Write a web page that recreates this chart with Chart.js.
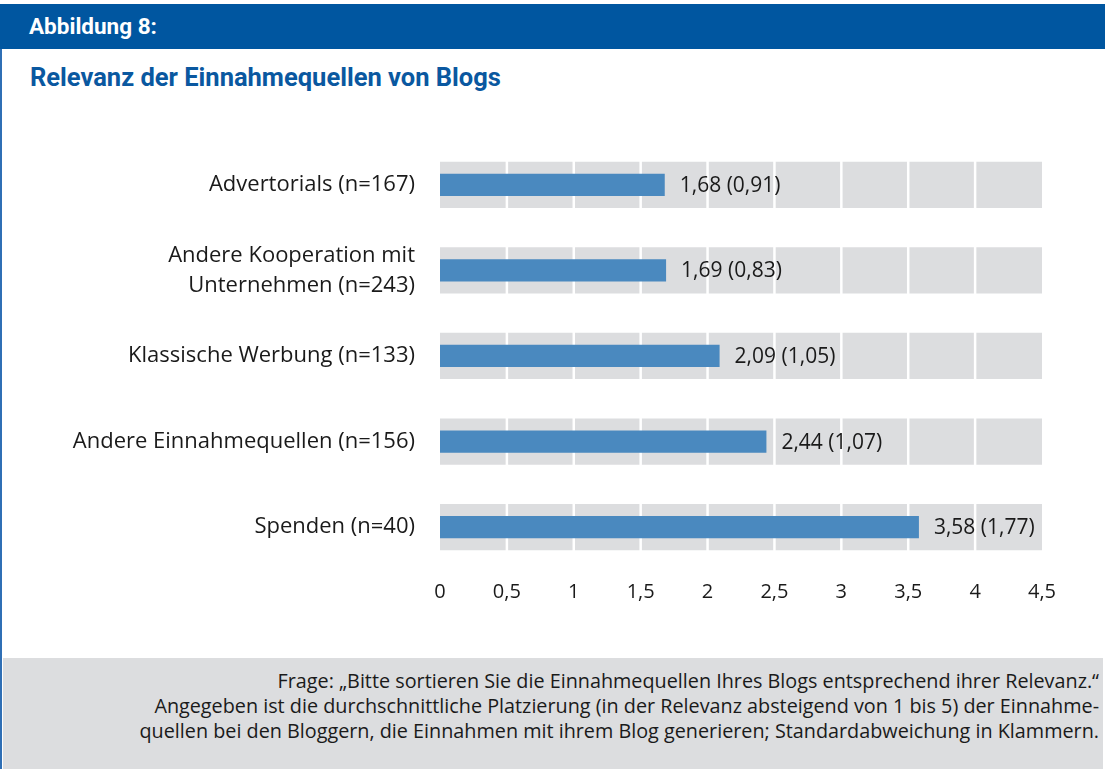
<!DOCTYPE html>
<html>
<head>
<meta charset="utf-8">
<script src="https://cdn.jsdelivr.net/npm/chart.js@4.4.1/dist/chart.umd.min.js"></script>
<style>
  body { margin: 0; width: 1105px; height: 769px; position: relative; overflow: hidden; background: #fff; font-family: Roboto, "Open Sans", sans-serif; }
  #head { position: absolute; left: 0; top: 4px; width: 1105px; height: 45px; background: #0056a0; color: #fff; font-weight: bold; font-size: 22.5px; line-height: 45px; padding-left: 29px; box-sizing: border-box; }
  #edge { position: absolute; left: 0; top: 49px; width: 2px; height: 720px; background: #2f6fb5; }
  #title { position: absolute; left: 30px; top: 62px; color: #0a58a0; font-weight: bold; font-size: 25.5px; }
  #chartBox { position: absolute; left: 0; top: 110px; width: 1105px; height: 500px; }
  #foot { position: absolute; left: 3px; top: 658px; width: 1100px; height: 111px; background: #dcdddf; color: #1a1a1a; font-family: "Open Sans", sans-serif; font-size: 19.8px; line-height: 25px; text-align: right; padding: 10px 4px 0 0; box-sizing: border-box; }
</style>
</head>
<body>
<div id="head">Abbildung 8:</div>
<div id="edge"></div>
<div id="title">Relevanz der Einnahmequellen von Blogs</div>
<div id="chartBox"><canvas id="barChart"></canvas></div>
<div id="foot">
  Frage: „Bitte sortieren Sie die Einnahmequellen Ihres Blogs entsprechend ihrer Relevanz.“<br>
  Angegeben ist die durchschnittliche Platzierung (in der Relevanz absteigend von 1 bis 5) der Einnahme-<br>
  quellen bei den Bloggern, die Einnahmen mit ihrem Blog generieren; Standardabweichung in Klammern.
</div>
<script>
const categories = [
  "Advertorials (n=167)",
  ["Andere Kooperation mit", "Unternehmen (n=243)"],
  "Klassische Werbung (n=133)",
  "Andere Einnahmequellen (n=156)",
  "Spenden (n=40)"
];
const meanRank = [1.68, 1.69, 2.09, 2.44, 3.58];
const stdDev = [0.91, 0.83, 1.05, 1.07, 1.77];
const axisMax = 4.5;
const bandValues = categories.map(() => axisMax);

function de(v) {
  return v.toString().replace(".", ",");
}

function fmt2(v) {
  return v.toFixed(2).replace(".", ",");
}

// white vertical lines painted over the grey bands, under the blue bars
const bandGrid = {
  id: "bandGrid",
  afterDatasetDraw(chart, args) {
    if (args.index !== 1) return;
    const ctx = chart.ctx;
    const x = chart.scales.x;
    const area = chart.chartArea;
    ctx.save();
    ctx.strokeStyle = "#ffffff";
    ctx.lineWidth = 2.5;
    x.ticks.forEach(t => {
      if (t.value <= 0 || t.value >= axisMax) return;
      const px = x.getPixelForValue(t.value);
      ctx.beginPath();
      ctx.moveTo(px, area.top);
      ctx.lineTo(px, area.bottom);
      ctx.stroke();
    });
    ctx.restore();
  }
};

const valueLabels = {
  id: "valueLabels",
  afterDatasetsDraw(chart) {
    const ctx = chart.ctx;
    const meta = chart.getDatasetMeta(0);
    ctx.save();
    ctx.fillStyle = "#1a1a1a";
    ctx.font = "21px 'Open Sans'";
    ctx.textBaseline = "middle";
    meta.data.forEach((bar, i) => {
      ctx.fillText(fmt2(meanRank[i]) + " (" + fmt2(stdDev[i]) + ")", bar.x + 15, bar.y + 1);
    });
    ctx.restore();
  }
};

new Chart(document.getElementById("barChart").getContext("2d"), {
  type: "bar",
  data: {
    labels: categories,
    datasets: [{
      data: meanRank,
      backgroundColor: "#4a89bf",
      barPercentage: 0.26,
      categoryPercentage: 1,
      grouped: false
    }, {
      data: bandValues,
      backgroundColor: "#dcdddf",
      barPercentage: 0.54,
      categoryPercentage: 1,
      grouped: false
    }]
  },
  options: {
    indexAxis: "y",
    responsive: true,
    maintainAspectRatio: false,
    animation: false,
    layout: { padding: { top: 21, right: 63, left: 0, bottom: 0 } },
    plugins: {
      legend: { display: false },
      tooltip: { enabled: false }
    },
    scales: {
      x: {
        min: 0,
        max: axisMax,
        grid: { display: false },
        border: { display: false },
        ticks: {
          stepSize: 0.5,
          color: "#1a1a1a",
          font: { family: "'Open Sans'", size: 20 },
          padding: 2,
          callback: v => de(v)
        },
        afterFit: s => { s.height = 40; }
      },
      y: {
        grid: { display: false },
        border: { display: false },
        ticks: {
          color: "#1a1a1a",
          font: { family: "'Open Sans'", size: 22, lineHeight: 1.36 },
          padding: 17
        },
        afterFit: s => { s.width = 440; }
      }
    }
  },
  plugins: [bandGrid, valueLabels]
});
</script>
</body>
</html>
